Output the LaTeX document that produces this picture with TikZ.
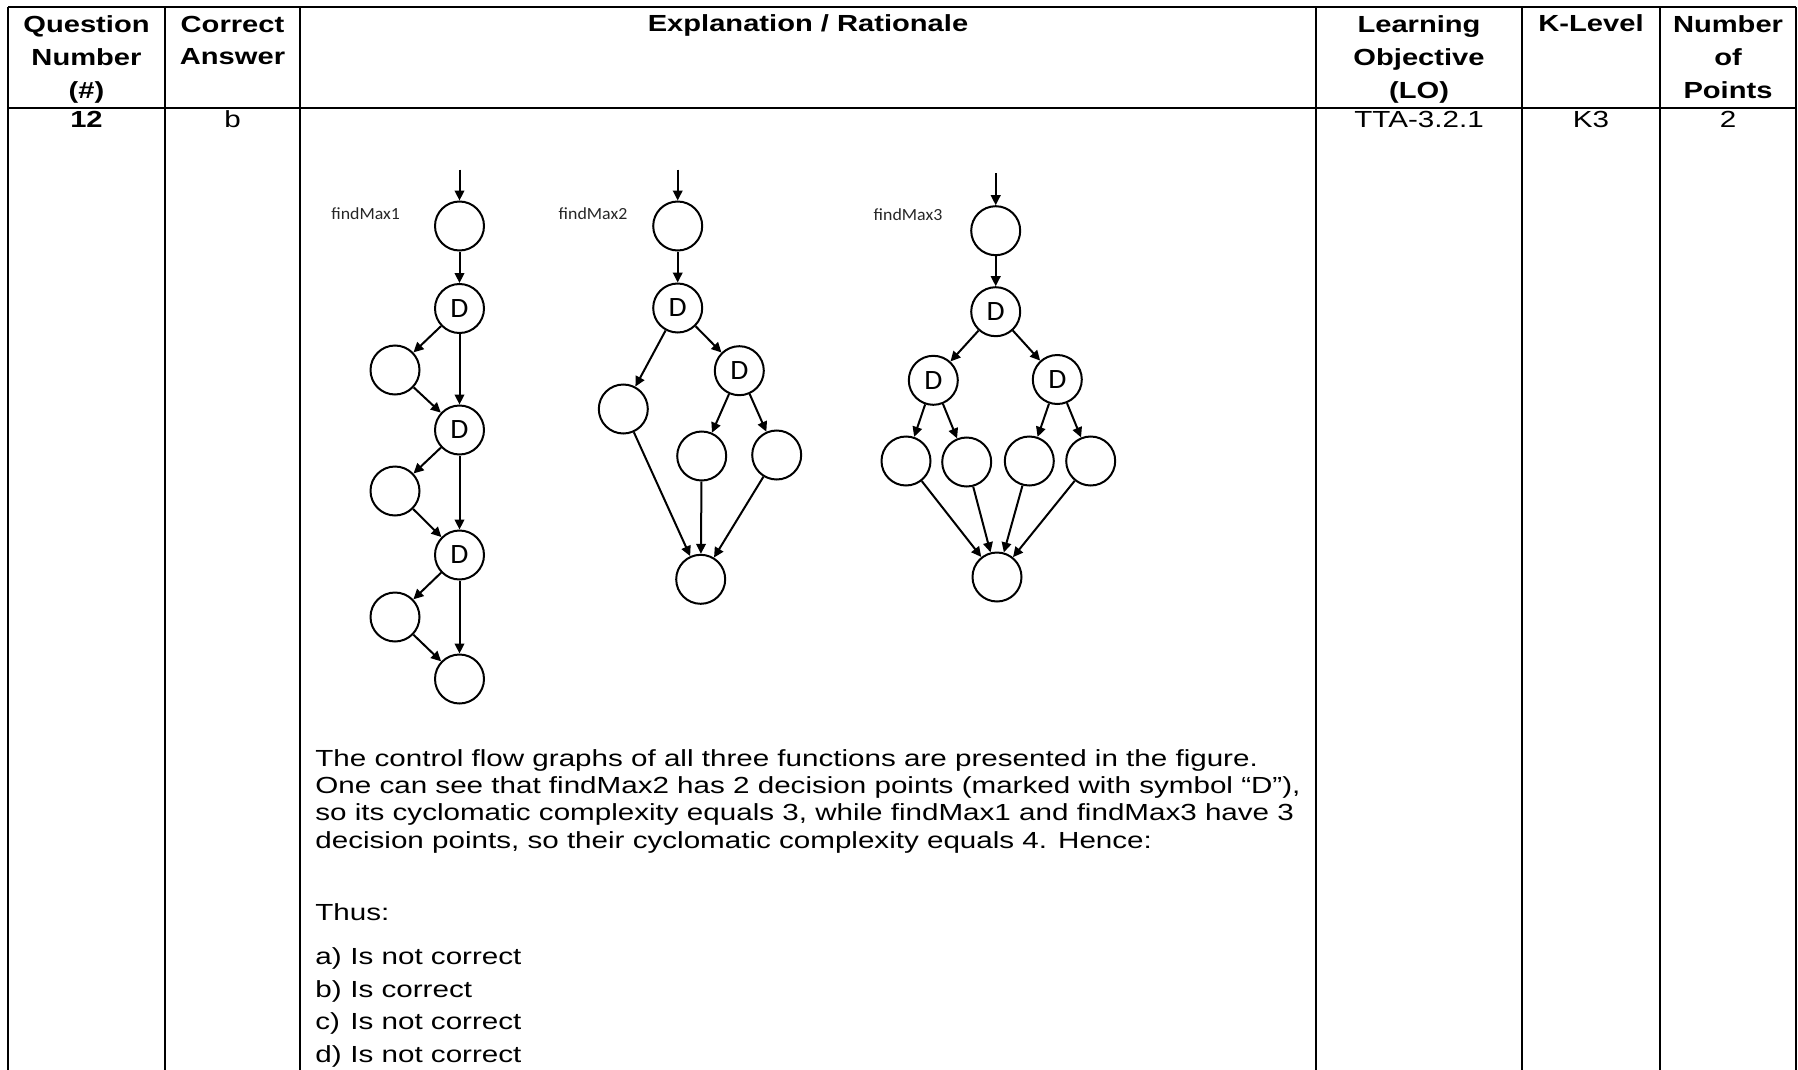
\documentclass[tikz,border=0pt]{standalone}
\usepackage{fontspec}
\setmainfont{Liberation Sans}[UprightFeatures={FakeStretch=1.27}, BoldFeatures={FakeStretch=1.25}]
\newfontfamily\cfgfont{Carlito}[FakeStretch=1.05]
\usetikzlibrary{arrows.meta}

\tikzset{
  rule/.style={line width=1pt},
  cell/.style={inner sep=0pt, anchor=base, font=\fontsize{11.65}{16.25}\selectfont},
  head/.style={cell, align=center, font=\fontsize{11.65}{16.25}\selectfont\bfseries},
  blk/.style={circle, draw, line width=1pt, minimum size=24.5pt, inner sep=0pt, font=\cfgfont\fontsize{14}{14}\selectfont},
  flow/.style={line width=1pt, -{Triangle[length=5pt,width=4.8pt]}},
  fname/.style={inner sep=0pt, anchor=base west, text=black!85, font=\cfgfont\fontsize{8.5}{8.5}\selectfont}
}

\begin{document}
\begin{tikzpicture}[x=0.5pt,y=0.5pt,yscale=-1]
        \useasboundingbox (0,0) rectangle (1798,1070);

        %Straight Lines [table frame]
        \draw [rule] (8,7) -- (1796,7) ;
        \draw [rule] (8,108) -- (1796,108) ;
        \draw [rule] (8,7) -- (8,1070) ;
        \draw [rule] (165,7) -- (165,1070) ;
        \draw [rule] (300,7) -- (300,1070) ;
        \draw [rule] (1316,7) -- (1316,1070) ;
        \draw [rule] (1522,7) -- (1522,1070) ;
        \draw [rule] (1660,7) -- (1660,1070) ;
        \draw [rule] (1796,7) -- (1796,1070) ;

        % Text Node (base = last line)
        \node [head] (hnum) at (86.5,98) {Question\\Number\\(\#)};
        \node [head] (hans) at (232.5,65) {Correct\\Answer};
        \node [head] (hexp) at (808,32) {Explanation / Rationale};
        \node [head] (hlo) at (1419,98) {Learning\\Objective\\(LO)};
        \node [head] (hkl) at (1591,32) {K-Level};
        \node [head] (hpts) at (1728,98) {Number\\of\\Points};

        % Text Node
        \node [cell, font=\fontsize{11.65}{16.25}\selectfont\bfseries] (qnum) at (86.5,127) {12};
        \node [cell] (qans) at (232.5,127) {b};
        \node [cell] (qlo) at (1419,127) {TTA-3.2.1};
        \node [cell] (qkl) at (1591,127) {K3};
        \node [cell] (qpts) at (1728,127) {2};

        %Shape: Circle [findMax1]
        \coordinate (m1in) at (459.5,169.5);
        \node [blk] (m1a) at (459.5,226) {};
        \node [blk] (m1d1) at (459.5,308.5) {D};
        \node [blk] (m1b1) at (395,370) {};
        \node [blk] (m1d2) at (459.5,430) {D};
        \node [blk] (m1b2) at (395,491) {};
        \node [blk] (m1d3) at (459.5,555) {D};
        \node [blk] (m1b3) at (395,617) {};
        \node [blk] (m1e) at (459.5,679) {};
        \node [fname] (m1name) at (331,219) {findMax1};

        %Straight Lines [findMax1]
        \draw [flow] (m1in) -- (m1a) ;
        \draw [flow] (m1a) -- (m1d1) ;
        \draw [flow] (m1d1) -- (m1b1) ;
        \draw [flow] (m1d1) -- (m1d2) ;
        \draw [flow] (m1b1) -- (m1d2) ;
        \draw [flow] (m1d2) -- (m1b2) ;
        \draw [flow] (m1d2) -- (m1d3) ;
        \draw [flow] (m1b2) -- (m1d3) ;
        \draw [flow] (m1d3) -- (m1b3) ;
        \draw [flow] (m1d3) -- (m1e) ;
        \draw [flow] (m1b3) -- (m1e) ;

        %Shape: Circle [findMax2]
        \coordinate (m2in) at (677.7,169.5);
        \node [blk] (m2a) at (677.7,226) {};
        \node [blk] (m2d1) at (677.7,308) {D};
        \node [blk] (m2b1) at (623.3,409) {};
        \node [blk] (m2d2) at (739.3,370.7) {D};
        \node [blk] (m2b2) at (701.7,456) {};
        \node [blk] (m2b3) at (776.7,455) {};
        \node [blk] (m2e) at (700.7,579.3) {};
        \node [fname] (m2name) at (558.3,219) {findMax2};

        %Straight Lines [findMax2]
        \draw [flow] (m2in) -- (m2a) ;
        \draw [flow] (m2a) -- (m2d1) ;
        \draw [flow] (m2d1) -- (m2b1) ;
        \draw [flow] (m2d1) -- (m2d2) ;
        \draw [flow] (m2d2) -- (m2b2) ;
        \draw [flow] (m2d2) -- (m2b3) ;
        \draw [flow] (m2b1) -- (m2e) ;
        \draw [flow] (m2b2) -- (m2e) ;
        \draw [flow] (m2b3) -- (m2e) ;

        %Shape: Circle [findMax3]
        \coordinate (m3in) at (995.7,173);
        \node [blk] (m3a) at (995.7,230.7) {};
        \node [blk] (m3d1) at (995.7,311.7) {D};
        \node [blk] (m3d2) at (933.3,380.3) {D};
        \node [blk] (m3d3) at (1057.3,379.5) {D};
        \node [blk] (m3b1) at (906,461) {};
        \node [blk] (m3b2) at (966.7,462) {};
        \node [blk] (m3b3) at (1029.3,461) {};
        \node [blk] (m3b4) at (1090.7,461) {};
        \node [blk] (m3e) at (997,577) {};
        \node [fname] (m3name) at (873.3,220) {findMax3};

        %Straight Lines [findMax3]
        \draw [flow] (m3in) -- (m3a) ;
        \draw [flow] (m3a) -- (m3d1) ;
        \draw [flow] (m3d1) -- (m3d2) ;
        \draw [flow] (m3d1) -- (m3d3) ;
        \draw [flow] (m3d2) -- (m3b1) ;
        \draw [flow] (m3d2) -- (m3b2) ;
        \draw [flow] (m3d3) -- (m3b3) ;
        \draw [flow] (m3d3) -- (m3b4) ;
        \draw [flow] (m3b1) -- (m3e) ;
        \draw [flow] (m3b2) -- (m3e) ;
        \draw [flow] (m3b3) -- (m3e) ;
        \draw [flow] (m3b4) -- (m3e) ;

        % Text Node
        \node [cell, anchor=base west, align=left, font=\fontsize{11.65}{13.55}\selectfont] (expl) at (315,848) {The control flow graphs of all three functions are presented in the figure.\\One can see that findMax2 has 2 decision points (marked with symbol “D”),\\so its cyclomatic complexity equals 3, while findMax1 and findMax3 have 3\\decision points, so their cyclomatic complexity equals 4. Hence:};
        % Text Node
        \node [cell, anchor=base west] (thus) at (315,920) {Thus:};
        \node [cell, anchor=base west, align=left, font=\fontsize{11.65}{16.25}\selectfont] (items) at (315,1062) {\makebox[17.5pt][l]{a)}Is not correct\\\makebox[17.5pt][l]{b)}Is correct\\\makebox[17.5pt][l]{c)}Is not correct\\\makebox[17.5pt][l]{d)}Is not correct};

\end{tikzpicture}
\end{document}
